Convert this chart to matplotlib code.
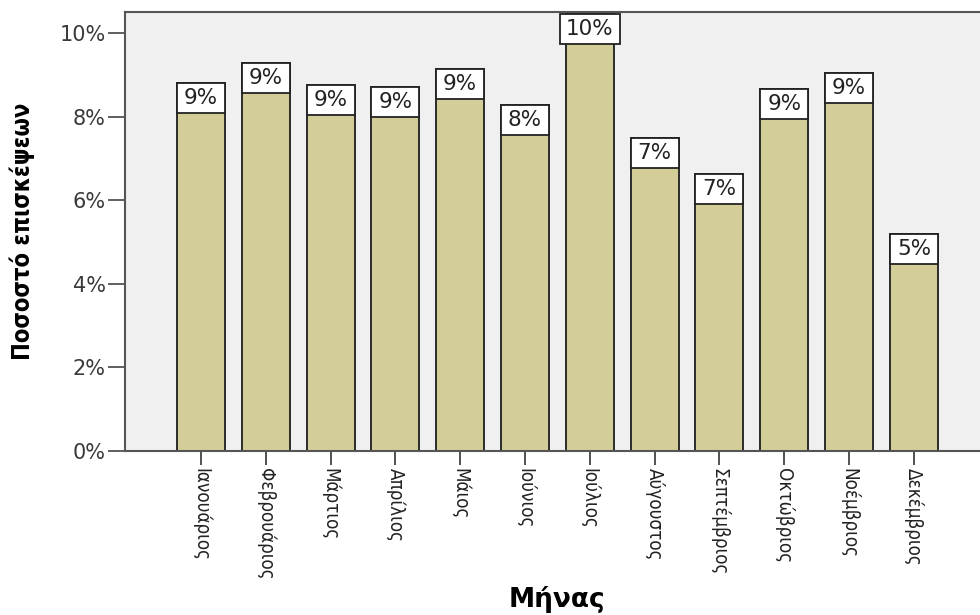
import matplotlib.pyplot as plt
from matplotlib.ticker import FuncFormatter

# Ποσοστό επισκέψεων ανά μήνα
months = ["Ιανουάριος", "Φεβρουάριος", "Μάρτιος", "Απρίλιος", "Μάιος", "Ιούνιος",
          "Ιούλιος", "Αύγουστος", "Σεπτέμβριος", "Οκτώβριος", "Νοέμβριος", "Δεκέμβριος"]
percent = [8.80, 9.28, 8.76, 8.71, 9.14, 8.28, 10.45, 7.49, 6.63, 8.66, 9.04, 5.19]

fig = plt.figure(figsize=(9.8, 6.15), dpi=100)
ax = fig.add_axes([0.1276, 0.2667, 0.8724, 0.7138])
ax.set_facecolor("#F0F0F0")

x = list(range(len(months)))
ax.bar(x, percent, width=0.74, color="#D3CE97", edgecolor="#2b2b2b", linewidth=1.4, zorder=2)

# ετικέτες τιμών σε λευκό κουτί στην κορυφή κάθε στήλης
box_h = 0.72
labels = [f"{v:.0f}%" for v in percent]
tops = [min(v, 10.5) for v in percent]
widths = [0.74 if len(s) < 3 else 0.93 for s in labels]
ax.bar(x, [box_h] * len(x), bottom=[t - box_h for t in tops], width=widths,
       color="white", edgecolor="#222222", linewidth=1.3, zorder=3)
for i, t, s in zip(x, tops, labels):
    ax.text(i, t - box_h / 2, s, ha="center", va="center", fontsize=15.5,
            color="#222222", zorder=4)

ax.set_xlim(-1.17, 12.02)
ax.set_ylim(0, 10.5)
ax.set_yticks([0, 2, 4, 6, 8, 10])
ax.yaxis.set_major_formatter(FuncFormatter(lambda v, p: f"{v:.0f}%"))
ax.set_xticks(x)
ax.set_xticklabels(months, rotation=270, fontsize=13.5, fontstretch="condensed")

ax.tick_params(axis="y", length=12, width=1.2, labelsize=15, colors="#444444", labelcolor="#3a3a3a", pad=2)
ax.tick_params(axis="x", length=10, width=1.2, colors="#333333", labelcolor="#222222", pad=2)

for s in ["left", "bottom", "top"]:
    ax.spines[s].set_color("#555555")
    ax.spines[s].set_linewidth(1.5)
ax.spines["right"].set_visible(False)

fig.text(0.023, 0.6236, "Ποσοστό επισκέψεων", fontsize=17, fontweight="bold",
         fontstretch="condensed", rotation=90, ha="center", va="center")
fig.text(0.568, 0.003, "Μήνας", fontsize=19, fontweight="bold", ha="center", va="bottom")

fig.savefig("out.png", dpi=100)
